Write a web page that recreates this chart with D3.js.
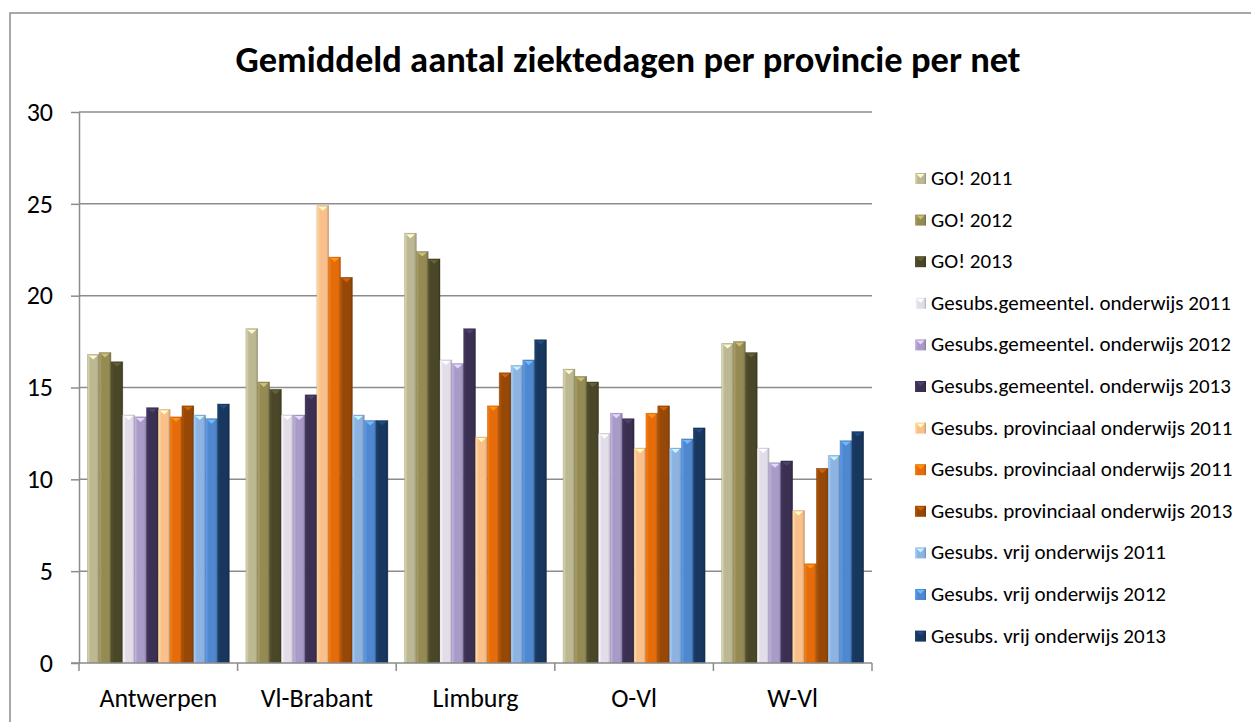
<!DOCTYPE html>
<html lang="en">
<head>
    <meta charset="utf-8">
    <title>Gemiddeld aantal ziektedagen</title>
    <script src="https://d3js.org/d3.v7.min.js"></script>
    <style>
        body { margin: 0; background: white; }
        svg { font-family: Carlito, Calibri, Lato, sans-serif; }
    </style>
</head>
<body>
<div id="chart"></div>
<script>
    const provinces = ['Antwerpen', 'Vl-Brabant', 'Limburg', 'O-Vl', 'W-Vl'];
    const seriesNames = [
        'GO! 2011', 'GO! 2012', 'GO! 2013',
        'Gesubs.gemeentel. onderwijs 2011', 'Gesubs.gemeentel. onderwijs 2012', 'Gesubs.gemeentel. onderwijs 2013',
        'Gesubs. provinciaal onderwijs 2011', 'Gesubs. provinciaal onderwijs 2011', 'Gesubs. provinciaal onderwijs 2013',
        'Gesubs. vrij onderwijs 2011', 'Gesubs. vrij onderwijs 2012', 'Gesubs. vrij onderwijs 2013'
    ];
    const seriesColors = [
        '#bcb893', '#948a54', '#4a4628',
        '#e2dde8', '#a99bc8', '#3b2f52',
        '#f9c08c', '#e46c0a', '#974806',
        '#8db3e2', '#4f88cf', '#17375e'
    ];
    // values per province, in series order
    const antwerpen = [16.8, 16.9, 16.4, 13.5, 13.4, 13.9, 13.8, 13.4, 14.0, 13.5, 13.3, 14.1];
    const vlBrabant = [18.2, 15.3, 14.9, 13.5, 13.5, 14.6, 24.9, 22.1, 21.0, 13.5, 13.2, 13.2];
    const limburg   = [23.4, 22.4, 22.0, 16.5, 16.3, 18.2, 12.3, 14.0, 15.8, 16.2, 16.5, 17.6];
    const oVl       = [16.0, 15.6, 15.3, 12.5, 13.6, 13.3, 11.7, 13.6, 14.0, 11.7, 12.2, 12.8];
    const wVl       = [17.4, 17.5, 16.9, 11.7, 10.9, 11.0, 8.3, 5.4, 10.6, 11.3, 12.1, 12.6];
    const values = [antwerpen, vlBrabant, limburg, oVl, wVl];
    const yTicks = [0, 5, 10, 15, 20, 25, 30];

    const width = 1251, height = 722;
    const plotLeft = 79, plotRight = 872, plotTop = 112, plotBottom = 663;

    const svg = d3.select('#chart').append('svg')
        .attr('width', width)
        .attr('height', height);

    // gradients for the 3d bar look
    const defs = svg.append('defs');
    seriesColors.forEach((c, i) => {
        const g = defs.append('linearGradient')
            .attr('id', 'grad' + i)
            .attr('x1', '0%').attr('x2', '100%');
        const base = d3.color(c);
        g.append('stop').attr('offset', '0%').attr('stop-color', base.brighter(0.5));
        g.append('stop').attr('offset', '25%').attr('stop-color', base);
        g.append('stop').attr('offset', '80%').attr('stop-color', base);
        g.append('stop').attr('offset', '100%').attr('stop-color', base.darker(0.6));
    });

    // outer border
    svg.append('rect')
        .attr('x', 10).attr('y', 13)
        .attr('width', 1260).attr('height', 730)
        .attr('fill', 'white')
        .attr('stroke', '#8c8c8c')
        .attr('stroke-width', 1.5);

    svg.append('text')
        .attr('x', 628).attr('y', 72)
        .attr('text-anchor', 'middle')
        .attr('font-size', '36.5px')
        .attr('font-weight', 'bold')
        .text('Gemiddeld aantal ziektedagen per provincie per net');

    const x0 = d3.scaleBand()
        .domain(provinces)
        .range([plotLeft, plotRight]);
    const x1 = d3.scaleBand()
        .domain(d3.range(seriesNames.length))
        .range([8.3, x0.bandwidth() - 8.3]);
    const y = d3.scaleLinear()
        .domain([0, 30])
        .range([plotBottom, plotTop]);

    // gridlines
    svg.append('g')
        .selectAll('line')
        .data(yTicks.filter(d => d > 0))
        .join('line')
        .attr('x1', plotLeft).attr('x2', plotRight)
        .attr('y1', d => y(d)).attr('y2', d => y(d))
        .attr('stroke', '#8c8c8c')
        .attr('stroke-width', 1.5);

    // y axis
    const yAxis = svg.append('g')
        .attr('transform', `translate(${plotLeft},0)`)
        .call(d3.axisLeft(y).tickValues(yTicks).tickSize(8).tickPadding(18).tickSizeOuter(0));
    yAxis.selectAll('path, line').attr('stroke', '#8c8c8c').attr('stroke-width', 1.5);
    yAxis.selectAll('text').attr('font-size', '26px').attr('fill', '#000')
        .style('font-family', 'Carlito, Calibri, Lato, sans-serif');

    // bars
    const groups = svg.append('g')
        .selectAll('g')
        .data(provinces)
        .join('g')
        .attr('transform', d => `translate(${x0(d)},0)`);

    const bars = groups.selectAll('g')
        .data((d, pi) => values[pi].map((v, si) => ({ v: v, si: si })))
        .join('g');

    bars.append('rect')
        .attr('x', d => x1(d.si))
        .attr('y', d => y(d.v))
        .attr('width', x1.bandwidth())
        .attr('height', d => y(0) - y(d.v))
        .attr('fill', d => `url(#grad${d.si})`)
        .attr('stroke', d => d3.color(seriesColors[d.si]).darker(0.8))
        .attr('stroke-width', 0.6)
        .attr('stroke-opacity', 0.6);

    bars.append('path')
        .attr('d', d => {
            const bx = x1(d.si), bw = x1.bandwidth(), by = y(d.v);
            return `M${bx + 1.5},${by + 1}L${bx + bw - 1.5},${by + 1}L${bx + bw / 2},${by + 5}Z`;
        })
        .attr('fill', d => d3.color(seriesColors[d.si]).brighter(0.9));

    // x axis
    const xAxis = svg.append('g')
        .attr('transform', `translate(0,${plotBottom})`);
    xAxis.append('line')
        .attr('x1', plotLeft - 8).attr('x2', plotRight)
        .attr('stroke', '#8c8c8c').attr('stroke-width', 1.5);
    xAxis.selectAll('.tick')
        .data(provinces.map(p => x0(p)).concat([plotRight]))
        .join('line')
        .attr('x1', d => d).attr('x2', d => d)
        .attr('y1', 0).attr('y2', 8)
        .attr('stroke', '#8c8c8c').attr('stroke-width', 1.5);
    xAxis.selectAll('text')
        .data(provinces)
        .join('text')
        .attr('x', d => x0(d) + x0.bandwidth() / 2)
        .attr('y', 44)
        .attr('text-anchor', 'middle')
        .attr('font-size', '26px')
        .text(d => d);

    // legend
    const legend = svg.append('g')
        .selectAll('g')
        .data(seriesNames)
        .join('g')
        .attr('transform', (d, i) => `translate(915,${178 + i * 41.6})`);
    legend.append('rect')
        .attr('x', 0).attr('y', -5)
        .attr('width', 11).attr('height', 11)
        .attr('fill', (d, i) => `url(#grad${i})`);
    legend.append('path')
        .attr('d', 'M1.5,-4L9.5,-4L5.5,0Z')
        .attr('fill', (d, i) => d3.color(seriesColors[i]).brighter(0.9));
    legend.append('text')
        .attr('x', 16).attr('y', 7)
        .attr('font-size', '21px')
        .text(d => d);
</script>
</body>
</html>
